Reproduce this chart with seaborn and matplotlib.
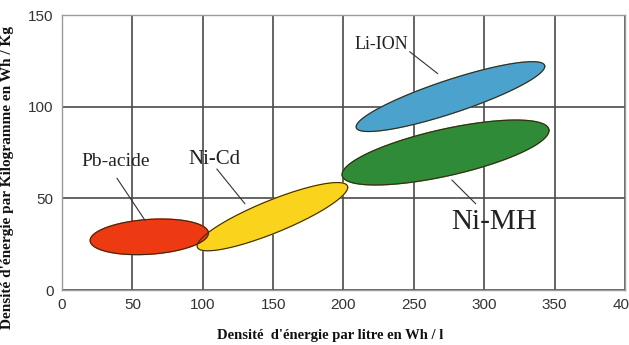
import numpy as np
import pandas as pd
import matplotlib
matplotlib.use("Agg")
import matplotlib.pyplot as plt
import seaborn as sns

# Battery zones: end points of each ellipse (Wh/l, Wh/kg) and half thickness in Wh/kg
chemistries = ["Pb-acide", "Ni-Cd", "Li-ION", "Ni-MH"]
x_start = [20, 96, 209, 199]
y_start = [27, 24, 89, 63]
x_end = [104, 203, 343, 346]
y_end = [31, 56, 122, 87]
half_height = [9.5, 9.5, 9.5, 13]
colors = ["#EE3A12", "#F9D31C", "#4BA2CD", "#2F8B38"]

# Label positions and leader lines
label_x = [38, 108, 227, 307]
label_y = [70, 71, 134, 37]
label_size = [14, 15, 13, 21]
leader_x0 = [39, 110, 247, 277]
leader_y0 = [61, 66, 130, 60]
leader_x1 = [59, 130, 267, 294]
leader_y1 = [38, 47, 118, 47]

x_ticks = [0, 50, 100, 150, 200, 250, 300, 350, 400]
y_ticks = [0, 50, 100, 150]

# Outline points of each zone
t = np.linspace(0, 2 * np.pi, 200)
rows = []
for i, name in enumerate(chemistries):
    cx = (x_start[i] + x_end[i]) / 2
    cy = (y_start[i] + y_end[i]) / 2
    ax_ = (x_end[i] - x_start[i]) / 2
    ay_ = (y_end[i] - y_start[i]) / 2
    for tt in t:
        rows.append({"zone": name,
                     "x": cx + ax_ * np.cos(tt),
                     "y": cy + ay_ * np.cos(tt) + half_height[i] * np.sin(tt)})
df = pd.DataFrame(rows)

sns.set_style("white")
fig = plt.figure(figsize=(6.29, 3.45), dpi=100)
ax = fig.add_axes([0.0986, 0.1594, 0.8950, 0.7971])

# draw the zones (Pb-acide on top of Ni-Cd like the picture)
order = ["Ni-Cd", "Li-ION", "Ni-MH", "Pb-acide"]
for name in order:
    i = chemistries.index(name)
    sub = df[df["zone"] == name]
    ax.fill(sub["x"], sub["y"], color=colors[i], zorder=3)
    sns.lineplot(data=sub, x="x", y="y", sort=False, estimator=None,
                 color="#3a2a10", lw=0.8, ax=ax, zorder=4)

for i, name in enumerate(chemistries):
    ax.plot([leader_x0[i], leader_x1[i]], [leader_y0[i], leader_y1[i]],
            color="#333333", lw=0.8, zorder=5)
    ax.text(label_x[i], label_y[i], name, fontsize=label_size[i],
            family=["Liberation Serif", "DejaVu Serif"], color="#222222",
            ha="center", va="center", zorder=6)

ax.set_xlim(0, 400)
ax.set_ylim(0, 150)
ax.set_xticks(x_ticks)
ax.set_yticks(y_ticks)
ax.grid(True, color="#4a4a4a", lw=1.2, zorder=1)
ax.set_axisbelow(True)
for s in ax.spines.values():
    s.set_color("#9a9a9a")
    s.set_linewidth(1.0)
ax.tick_params(length=0, labelsize=11, labelcolor="#333333", pad=6)
for lab in ax.get_xticklabels() + ax.get_yticklabels():
    lab.set_family(["Liberation Sans Narrow", "Liberation Sans", "DejaVu Sans"])

ax.set_xlabel("Densité  d'énergie par litre en Wh / l", fontsize=10.5, fontweight="bold",
              family=["Liberation Serif", "DejaVu Serif"], color="#111111")
ax.xaxis.set_label_coords(0.476, -0.14)
ax.set_ylabel("Densité d'énergie par Kilogramme en Wh / Kg", fontsize=11, fontweight="bold",
              family=["Liberation Serif", "DejaVu Serif"], color="#111111")
ax.yaxis.set_label_coords(-0.085, 0.41)

fig.savefig("out.png", dpi=100)
